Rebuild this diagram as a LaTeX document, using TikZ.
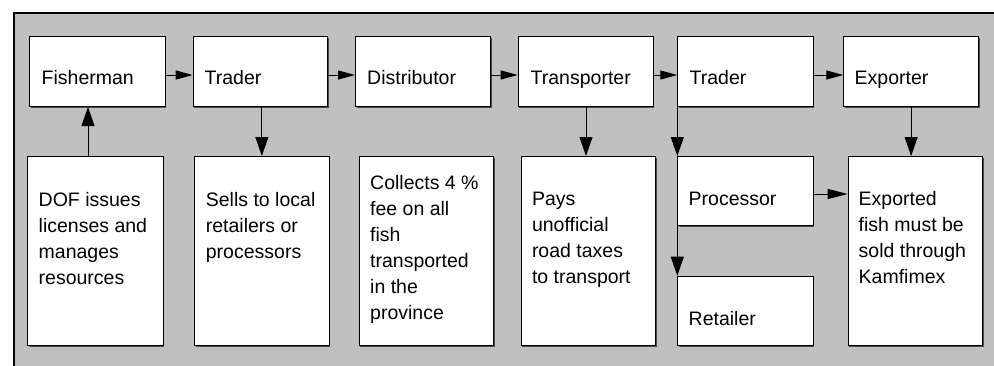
\documentclass[tikz,border=0pt]{standalone}
\usepackage{fontspec}
\setmainfont{Liberation Sans}[Ligatures=CommonOff]
\usetikzlibrary{arrows.meta,shadows}
\definecolor{panel}{HTML}{C0C0C0}
\definecolor{shade}{HTML}{4A4A4A}
% a box from (x1,y1) to (x2,y2), pixel-style coordinates with y pointing down
\newcommand\flowbox[5]{\node[box, minimum width={(#4)-(#2)}, minimum height={(#5)-(#3)}] (#1) at (#2,#3) {};}
\newcommand\topstrut{\rule{0pt}{15pt}}
\begin{document}
\begin{tikzpicture}[x=1pt,y=-1pt,
  box/.style={draw=black, line width=1pt, fill=white, inner sep=0pt, anchor=north west,
    drop shadow={shadow xshift=1pt, shadow yshift=-1pt, fill=shade, opacity=1}},
  lbl/.style={anchor=north west, inner sep=0pt, align=left,
    font=\fontsize{19.5}{26}\selectfont},
  harrow/.style={-{Triangle[length=17pt,width=9pt]}, line width=1pt},
  parrow/.style={-{Triangle[length=20pt,width=10pt]}, line width=1pt},
  varrow/.style={-{Triangle[length=19pt,width=13pt]}, line width=1pt}]
\clip (0,0) rectangle (994,365);
% grey panel with its dark top and left rules
\fill[panel] (14,13) rectangle (1000,370);
\draw[line width=2pt, black] (14,370) -- (14,13) -- (1000,13);

% upper row
\flowbox{fish}{29.3}{36}{164.7}{106}
\flowbox{traderA}{192.7}{36}{327}{106}
\flowbox{dist}{355}{36}{490}{106}
\flowbox{transp}{517.7}{36}{652.7}{106}
\flowbox{traderB}{677.3}{36}{812.7}{106}
\flowbox{exporter}{843.3}{36}{978}{106}
% lower row
\flowbox{dof}{27.3}{156}{162.7}{345}
\flowbox{sells}{194}{156}{328.7}{345}
\flowbox{collects}{358.7}{156}{493.3}{345}
\flowbox{pays}{520.7}{156}{655.3}{345}
\flowbox{processor}{677.3}{156}{812.7}{225}
\flowbox{retailer}{677.3}{275.7}{812.7}{345}
\flowbox{exported}{847.7}{156}{982.3}{345}

% connectors
\coordinate (hrow) at (0,75);
\coordinate (prow) at (0,194);
\coordinate (dofx) at (88,0);
\coordinate (paysx) at (586,0);
\draw[harrow] (fish.east |- hrow) -- (traderA.west |- hrow);
\draw[harrow] (traderA.east |- hrow) -- (dist.west |- hrow);
\draw[harrow] (dist.east |- hrow) -- (transp.west |- hrow);
\draw[harrow] (transp.east |- hrow) -- (traderB.west |- hrow);
\draw[harrow] (traderB.east |- hrow) -- (exporter.west |- hrow);
\draw[varrow] (dof.north -| dofx) -- (fish.south -| dofx);
\draw[varrow] (traderA.south -| sells.north) -- (sells.north);
\draw[varrow] (transp.south -| paysx) -- (pays.north -| paysx);
\draw[varrow] (traderB.south west) -- (processor.north west);
\draw[varrow] (processor.south west) -- (retailer.north west);
\draw[varrow] (exporter.south) -- (exporter.south |- exported.north);
\draw[parrow] (processor.east |- prow) -- (exported.west |- prow);

% labels
\node[lbl] (fish-t) at (41.5,69.3) {\topstrut Fisherman};
\node[lbl] (traderA-t) at (204.5,69.3) {\topstrut Trader};
\node[lbl] (dist-t) at (367,69.3) {\topstrut Distributor};
\node[lbl] (transp-t) at (530.5,69.3) {\topstrut Transporter};
\node[lbl] (traderB-t) at (689.5,69.3) {\topstrut Trader};
\node[lbl] (exporter-t) at (854.5,69.3) {\topstrut Exporter};
\node[lbl] (dof-t) at (38.5,191.7) {\topstrut DOF issues\\licenses and\\manages\\resources};
\node[lbl] (sells-t) at (205.7,191.7) {\topstrut Sells to local\\retailers or\\processors};
\node[lbl] (collects-t) at (370,174.3) {\topstrut Collects 4 \%\\fee on all\\fish\\transported\\in the\\province};
\node[lbl] (pays-t) at (531.8,190.7) {\topstrut Pays\\unofficial\\road taxes\\to transport};
\node[lbl] (processor-t) at (688.5,190) {\topstrut Processor};
\node[lbl] (retailer-t) at (688.5,310) {\topstrut Retailer};
\node[lbl] (exported-t) at (858.5,190.7) {\topstrut Exported\\fish must be\\sold through\\Kamfimex};
\end{tikzpicture}
\end{document}
